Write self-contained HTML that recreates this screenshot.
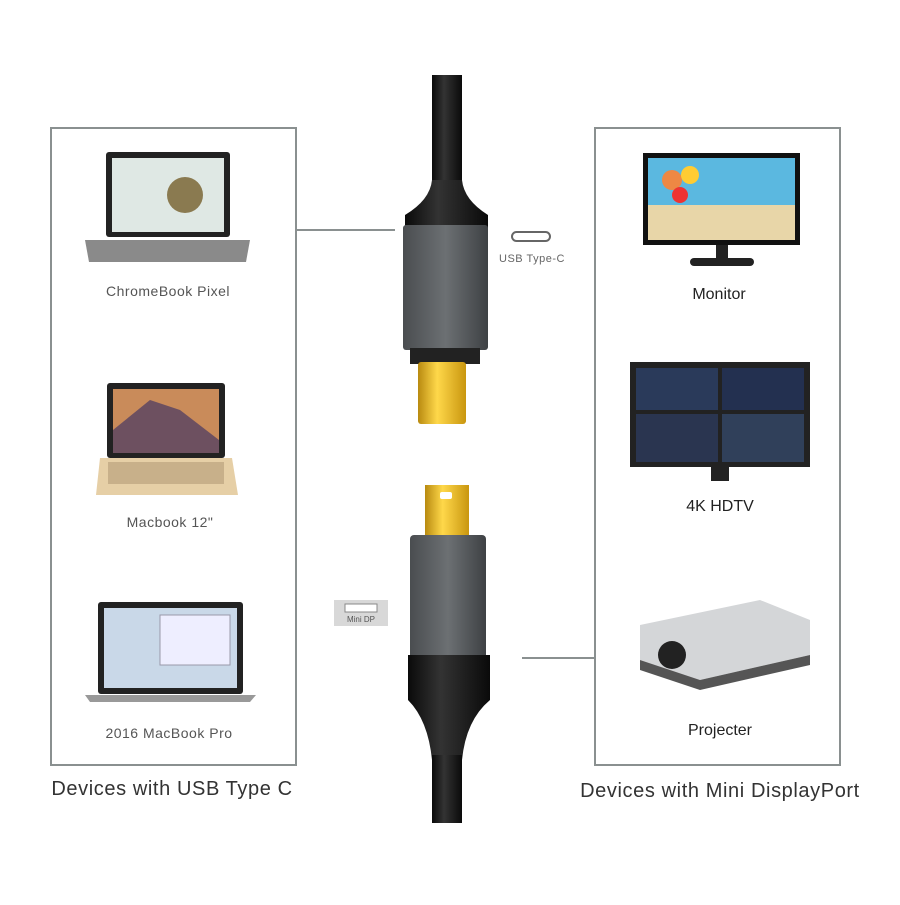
<!DOCTYPE html>
<html><head><style>
body{margin:0;background:#fff;width:900px;height:900px;overflow:hidden;font-family:"Liberation Sans",sans-serif;}
</style></head><body>
<svg width="900" height="900" viewBox="0 0 900 900" xmlns="http://www.w3.org/2000/svg">
<defs>
<linearGradient id="gr" x1="0" x2="1"><stop offset="0" stop-color="#4a4d50"/><stop offset=".5" stop-color="#6c7073"/><stop offset="1" stop-color="#3e4144"/></linearGradient>
<linearGradient id="bk" x1="0" x2="1"><stop offset="0" stop-color="#0a0a0a"/><stop offset=".4" stop-color="#333"/><stop offset="1" stop-color="#0a0a0a"/></linearGradient>
<linearGradient id="au" x1="0" x2="1"><stop offset="0" stop-color="#b88a10"/><stop offset=".4" stop-color="#ffd84a"/><stop offset="1" stop-color="#c9960f"/></linearGradient>
</defs>
<g fill="none" stroke="#8a9090" stroke-width="2">
<rect x="51" y="128" width="245" height="637"/>
<rect x="595" y="128" width="245" height="637"/>
<line x1="296" y1="230" x2="395" y2="230"/>
<line x1="522" y1="658" x2="595" y2="658"/>
</g>
<rect x="432" y="75" width="30" height="110" fill="url(#bk)"/>
<path d="M432 180 Q430 200 405 215 L405 245 L488 245 L488 215 Q464 200 462 180Z" fill="url(#bk)"/>
<rect x="403" y="225" width="85" height="125" rx="3" fill="url(#gr)"/>
<rect x="410" y="348" width="70" height="16" fill="#222"/>
<rect x="418" y="362" width="48" height="62" rx="3" fill="url(#au)"/>
<rect x="425" y="485" width="44" height="55" fill="url(#au)"/>
<rect x="440" y="492" width="12" height="7" rx="2" fill="#fff"/>
<rect x="410" y="535" width="76" height="125" rx="4" fill="url(#gr)"/>
<path d="M408 655 L490 655 L490 700 Q466 720 462 760 L432 760 Q428 720 408 700Z" fill="url(#bk)"/>
<rect x="432" y="755" width="30" height="68" fill="url(#bk)"/>
<rect x="512" y="232" width="38" height="9" rx="4.5" fill="none" stroke="#666" stroke-width="2"/>
<text x="532" y="262" font-size="11" fill="#666" text-anchor="middle" letter-spacing=".5">USB Type-C</text>
<rect x="334" y="600" width="54" height="26" fill="#d8d8d8"/>
<rect x="345" y="604" width="32" height="8" fill="#fff" stroke="#888"/>
<text x="361" y="622" font-size="8" fill="#555" text-anchor="middle">Mini DP</text>
<g>
<rect x="106" y="152" width="124" height="85" rx="3" fill="#222"/><rect x="112" y="158" width="112" height="74" fill="#dfe8e4"/>
<circle cx="185" cy="195" r="18" fill="#8a7a50"/>
<path d="M85 240 H250 L246 262 H89Z" fill="#8a8a8a"/>
<rect x="107" y="383" width="118" height="75" rx="3" fill="#222"/><rect x="113" y="389" width="106" height="64" fill="#c98b5a"/>
<path d="M113 430 L150 400 L180 410 L219 440 L219 453 L113 453Z" fill="#6d5060"/>
<path d="M100 458 H232 L238 495 H96Z" fill="#e6cfa6"/><rect x="108" y="462" width="116" height="22" fill="#c8b08a"/>
<rect x="98" y="602" width="145" height="92" rx="3" fill="#222"/><rect x="104" y="608" width="133" height="80" fill="#c9d8e8"/>
<rect x="160" y="615" width="70" height="50" fill="#eef" stroke="#99a"/>
<path d="M85 695 H256 L250 702 H90Z" fill="#999"/>
</g>
<g font-size="14" fill="#555" text-anchor="middle" letter-spacing=".5">
<text x="168" y="296">ChromeBook Pixel</text>
<text x="170" y="527">Macbook 12"</text>
<text x="169" y="738">2016 MacBook Pro</text>
</g>
<text x="172" y="795" font-size="20" fill="#333" text-anchor="middle" letter-spacing=".6">Devices with USB Type C</text>
<rect x="643" y="153" width="157" height="92" fill="#111"/>
<rect x="648" y="158" width="147" height="82" fill="#5bb8e0"/>
<rect x="648" y="205" width="147" height="35" fill="#e8d6a8"/>
<circle cx="672" cy="180" r="10" fill="#e84"/><circle cx="690" cy="175" r="9" fill="#fc3"/><circle cx="680" cy="195" r="8" fill="#e33"/>
<rect x="716" y="245" width="12" height="15" fill="#222"/><rect x="690" y="258" width="64" height="8" rx="4" fill="#222"/>
<rect x="630" y="362" width="180" height="105" fill="#222"/>
<rect x="636" y="368" width="82" height="42" fill="#2a3a5a"/><rect x="722" y="368" width="82" height="42" fill="#233050"/>
<rect x="636" y="414" width="82" height="48" fill="#2a3550"/><rect x="722" y="414" width="82" height="48" fill="#30405a"/>
<rect x="711" y="467" width="18" height="14" fill="#222"/>
<path d="M640 625 L760 600 L810 620 L810 655 L700 680 L640 660Z" fill="#d4d6d8"/>
<path d="M640 660 L700 680 L810 655 L810 665 L700 690 L640 670Z" fill="#555"/>
<circle cx="672" cy="655" r="14" fill="#222"/>
<g font-size="16" fill="#222" text-anchor="middle">
<text x="719" y="299">Monitor</text>
<text x="720" y="511">4K HDTV</text>
<text x="720" y="735">Projecter</text>
</g>
<text x="720" y="797" font-size="20" fill="#333" text-anchor="middle" letter-spacing=".6">Devices with Mini DisplayPort</text>
</svg>
</body></html>
